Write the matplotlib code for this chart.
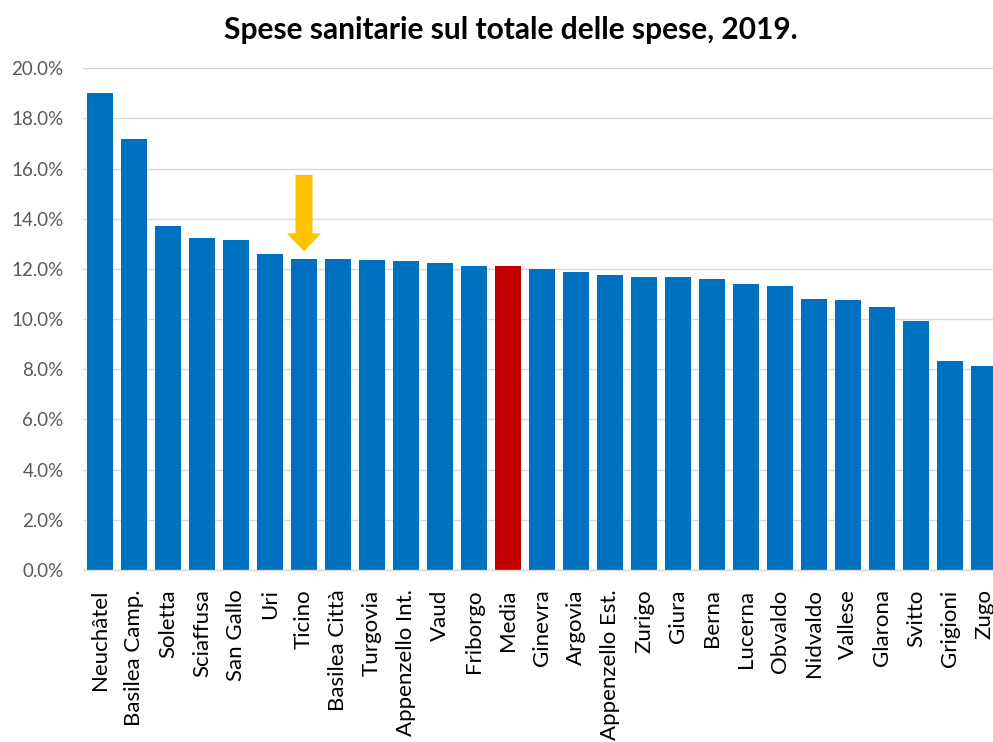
import matplotlib
matplotlib.use("Agg")
import matplotlib.pyplot as plt
from matplotlib.patches import FancyArrow
from matplotlib.ticker import FuncFormatter

# Share of health spending in total household spending, 2019 (%)
cantons = ["Neuchâtel", "Basilea Camp.", "Soletta", "Sciaffusa", "San Gallo", "Uri",
           "Ticino", "Basilea Città", "Turgovia", "Appenzello Int.", "Vaud", "Friborgo",
           "Media", "Ginevra", "Argovia", "Appenzello Est.", "Zurigo", "Giura", "Berna",
           "Lucerna", "Obvaldo", "Nidvaldo", "Vallese", "Glarona", "Svitto", "Grigioni",
           "Zugo"]
shares = [19.0, 17.2, 13.7, 13.25, 13.15, 12.6,
          12.4, 12.4, 12.35, 12.3, 12.22, 12.1,
          12.1, 12.0, 11.87, 11.75, 11.7, 11.7, 11.62,
          11.42, 11.32, 10.82, 10.77, 10.48, 9.92, 8.35,
          8.13]
highlight = "Ticino"
average = "Media"
y_ticks = [0, 2, 4, 6, 8, 10, 12, 14, 16, 18, 20]

BLUE = "#0070C0"
RED = "#C00000"
GOLD = "#FFC000"
GRID = "#D9D9D9"

W, H = 993, 742
fig = plt.figure(figsize=(W / 100, H / 100), dpi=100)
left_px, right_px, top_px, bottom_px = 83, 993, 68.3, 570
ax = fig.add_axes([left_px / W, 1 - bottom_px / H,
                   (right_px - left_px) / W, (bottom_px - top_px) / H])

pitch = 34.0
x = list(range(len(cantons)))
colors = [RED if c == average else BLUE for c in cantons]
ax.bar(x, shares, width=0.75, color=colors, zorder=3)

ax.set_xlim(-0.5, -0.5 + (right_px - left_px) / pitch)
ax.set_ylim(0, 20)
ax.set_yticks(y_ticks)
ax.yaxis.set_major_formatter(FuncFormatter(lambda v, p: f"{v:.1f}%"))
ax.grid(axis="y", color=GRID, linewidth=1.0, zorder=0)
ax.set_axisbelow(True)

for s in ["top", "right", "left"]:
    ax.spines[s].set_visible(False)
ax.spines["bottom"].set_color(GRID)
ax.spines["bottom"].set_linewidth(1.0)
ax.spines["bottom"].set_zorder(4)

ax.set_xticks(x)
ax.set_xticklabels(cantons, rotation=90, fontsize=16, family=["Lato", "DejaVu Sans"],
                   color="#000000")
ax.tick_params(axis="x", length=0, pad=14)
ax.tick_params(axis="y", length=0, pad=14, labelsize=13.5, labelcolor="#595959")
for lab in ax.get_yticklabels():
    lab.set_family(["Lato", "DejaVu Sans"])

# Arrow pointing at Ticino
i = cantons.index(highlight)
tip = shares[i] + 0.3
tail = tip + 3.05
head_len = 0.72
arrow = FancyArrow(i, tail, 0, tip - tail, width=0.5, head_width=1.0,
                   head_length=head_len, length_includes_head=True,
                   color=GOLD, linewidth=0, zorder=5)
ax.add_patch(arrow)

fig.text(511 / W, 1 - 30 / H, "Spese sanitarie sul totale delle spese, 2019.",
         ha="center", va="center", fontsize=21.5, fontweight="bold",
         family=["Lato", "DejaVu Sans"], color="#000000")

fig.savefig("out.png", dpi=100, facecolor="white")
